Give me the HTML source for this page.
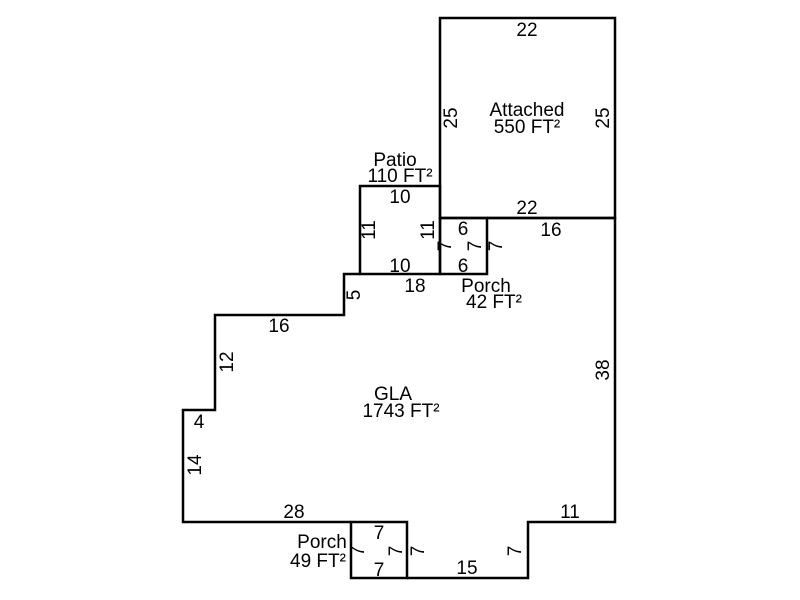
<!DOCTYPE html>
<html><head><style>body{margin:0;background:#fff}svg{display:block}text{font-family:"Liberation Sans",Arial,sans-serif;font-size:19px;fill:#000}</style></head><body>
<svg width="800" height="600" viewBox="0 0 800 600">
<g fill="none" stroke="#000" stroke-width="2.5">
<rect x="440" y="18" width="175" height="200"/>
<rect x="360" y="186" width="80" height="88"/>
<rect x="440" y="218" width="47" height="56"/>
<rect x="351" y="522" width="56" height="56"/>
<path d="M487 218 H615 V522 H528 V578 H407 M351 522 H183 V410 H215 V315 H344 V274 H360"/>
</g>
<g text-anchor="middle">
<text x="527" y="36">22</text>
<text x="527" y="116">Attached</text>
<text x="527" y="133">550 FT²</text>
<text x="527" y="214">22</text>
<text x="551" y="236">16</text>
<text x="395" y="166">Patio</text>
<text x="400" y="182">110 FT²</text>
<text x="400" y="203">10</text>
<text x="400" y="272">10</text>
<text x="463" y="235">6</text>
<text x="463" y="272">6</text>
<text x="415" y="292">18</text>
<text x="486" y="292">Porch</text>
<text x="494" y="308">42 FT²</text>
<text x="279" y="332">16</text>
<text x="199" y="428">4</text>
<text x="393" y="400">GLA</text>
<text x="401" y="417">1743 FT²</text>
<text x="294" y="518">28</text>
<text x="570" y="518">11</text>
<text x="379" y="539">7</text>
<text x="379" y="576">7</text>
<text x="322" y="548">Porch</text>
<text x="318" y="567">49 FT²</text>
<text x="467" y="574">15</text>
<text transform="translate(457,118) rotate(-90)">25</text>
<text transform="translate(609,118) rotate(-90)">25</text>
<text transform="translate(375,230) rotate(-90)">11</text>
<text transform="translate(434,230) rotate(-90)">11</text>
<text transform="translate(360,295) rotate(-90)">5</text>
<text transform="translate(233,362) rotate(-90)">12</text>
<text transform="translate(201,465) rotate(-90)">14</text>
<text transform="translate(609,370) rotate(-90)">38</text>
<text transform="translate(451,246) rotate(-90)">7</text>
<text transform="translate(481,246) rotate(-90)">7</text>
<text transform="translate(502,246) rotate(-90)">7</text>
<text transform="translate(364,551) rotate(-90)">7</text>
<text transform="translate(402,551) rotate(-90)">7</text>
<text transform="translate(424,551) rotate(-90)">7</text>
<text transform="translate(521,551) rotate(-90)">7</text>
</g>
</svg>
</body></html>
